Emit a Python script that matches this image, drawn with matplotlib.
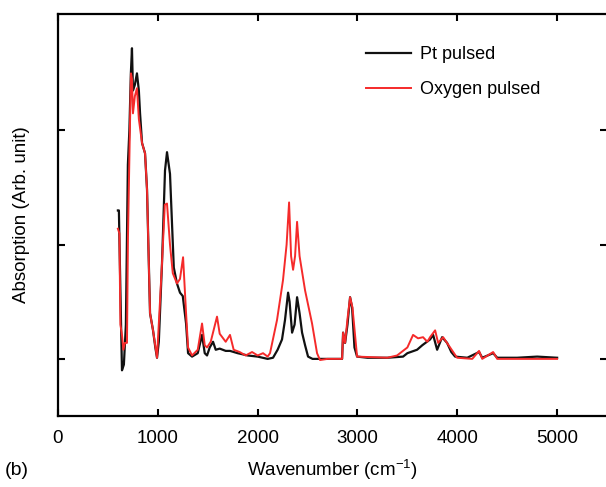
import matplotlib
matplotlib.use("Agg")
import matplotlib.pyplot as plt

plt.rcParams['font.family'] = ['Liberation Sans', 'DejaVu Sans']
plt.rcParams['mathtext.default'] = 'regular'

# IR absorption spectra, wavenumber (cm-1) vs absorption (arb. unit)
pt_wn = [600, 610, 625, 641, 660, 680, 700, 715, 730, 741, 751, 770, 791, 810,
         822, 842, 872, 892, 922, 952, 975, 992, 1010, 1042, 1072, 1092, 1122,
         1160, 1192, 1222, 1250, 1283, 1303, 1343, 1400, 1443, 1470, 1493, 1520,
         1553, 1580, 1620, 1680, 1723, 1800, 1900, 2000, 2100, 2154, 2200, 2244,
         2274, 2305, 2320, 2345, 2370, 2395, 2420, 2445, 2475, 2505, 2550, 2700,
         2846, 2856, 2876, 2900, 2926, 2946, 2970, 2996, 3100, 3300, 3457, 3500,
         3597, 3650, 3727, 3758, 3798, 3848, 3898, 3940, 3978, 4100, 4218, 4250,
         4359, 4400, 4600, 4800, 5000]
pt_abs = [1.30, 1.30, 0.60, -0.10, -0.05, 0.30, 1.70, 2.00, 2.50, 2.72, 2.35,
          2.40, 2.50, 2.35, 2.15, 1.89, 1.80, 1.48, 0.40, 0.25, 0.10, 0.01, 0.15,
          0.84, 1.65, 1.81, 1.62, 0.80, 0.66, 0.58, 0.55, 0.31, 0.05, 0.02, 0.05,
          0.21, 0.05, 0.03, 0.10, 0.15, 0.08, 0.09, 0.07, 0.07, 0.05, 0.03, 0.02,
          0.00, 0.01, 0.08, 0.17, 0.34, 0.58, 0.50, 0.23, 0.30, 0.54, 0.40, 0.23,
          0.12, 0.02, 0.00, 0.00, 0.00, 0.23, 0.14, 0.30, 0.54, 0.45, 0.10, 0.02,
          0.01, 0.01, 0.02, 0.05, 0.08, 0.12, 0.17, 0.21, 0.08, 0.19, 0.14, 0.06,
          0.02, 0.01, 0.06, 0.01, 0.05, 0.01, 0.01, 0.02, 0.01]

ox_wn = [600, 615, 625, 641, 655, 670, 691, 701, 720, 731, 741, 751, 770, 791,
         810, 842, 872, 892, 922, 952, 992, 1042, 1070, 1092, 1122, 1150, 1192,
         1222, 1253, 1283, 1303, 1343, 1400, 1443, 1470, 1493, 1530, 1593, 1620,
         1680, 1723, 1760, 1820, 1880, 1944, 2000, 2054, 2100, 2124, 2194, 2254,
         2290, 2315, 2335, 2355, 2375, 2395, 2420, 2475, 2545, 2595, 2625, 2700,
         2846, 2856, 2876, 2900, 2926, 2950, 2996, 3300, 3397, 3500, 3557, 3607,
         3657, 3700, 3727, 3778, 3808, 3858, 3928, 3998, 4150, 4218, 4250, 4359,
         4400, 5000]
ox_abs = [1.14, 1.10, 0.30, 0.21, 0.08, 0.14, 0.14, 1.07, 2.00, 2.50, 2.45,
          2.15, 2.30, 2.37, 2.10, 1.89, 1.80, 1.48, 0.40, 0.25, 0.01, 0.84, 1.35,
          1.36, 1.00, 0.75, 0.66, 0.70, 0.89, 0.40, 0.10, 0.03, 0.08, 0.31, 0.12,
          0.10, 0.15, 0.37, 0.22, 0.15, 0.21, 0.08, 0.06, 0.03, 0.06, 0.03, 0.05,
          0.02, 0.05, 0.34, 0.69, 1.00, 1.37, 0.90, 0.78, 0.90, 1.20, 0.90, 0.60,
          0.31, 0.05, -0.01, 0.00, 0.00, 0.23, 0.14, 0.35, 0.54, 0.45, 0.02, 0.01,
          0.03, 0.10, 0.21, 0.18, 0.19, 0.15, 0.19, 0.25, 0.14, 0.19, 0.10, 0.01,
          0.00, 0.07, 0.00, 0.06, 0.00, 0.00]

fig = plt.figure(figsize=(6.06, 4.87), dpi=100)
ax = fig.add_axes([0.0957, 0.1458, 0.906, 0.8255])

ax.plot(pt_wn, pt_abs, color='#111111', lw=1.6, label='Pt pulsed', zorder=2)
ax.plot(ox_wn, ox_abs, color='#f52a2a', lw=1.4, label='Oxygen pulsed', zorder=3)

ax.set_xlim(0, 5500)
ax.set_ylim(-0.5, 3.02)
ax.set_xticks([0, 1000, 2000, 3000, 4000, 5000])
ax.set_yticks([0, 1, 2])
ax.set_yticklabels([])
ax.tick_params(direction='in', length=5, width=1.5, top=True, right=True,
               labelsize=13.5, pad=10)
for s in ax.spines.values():
    s.set_linewidth(1.6)

ax.set_ylabel('Absorption (Arb. unit)', fontsize=13.5, labelpad=10)
ax.set_xlabel('Wavenumber (cm$^{-1}$)', fontsize=13.5, labelpad=8)
fig.text(0.008, 0.025, '(b)', fontsize=14)

ax.legend(loc='upper left', bbox_to_anchor=(0.532, 0.96), frameon=False,
          fontsize=13, handlelength=2.5, handletextpad=0.5, labelspacing=1.0)

fig.savefig('out.png', dpi=100)
